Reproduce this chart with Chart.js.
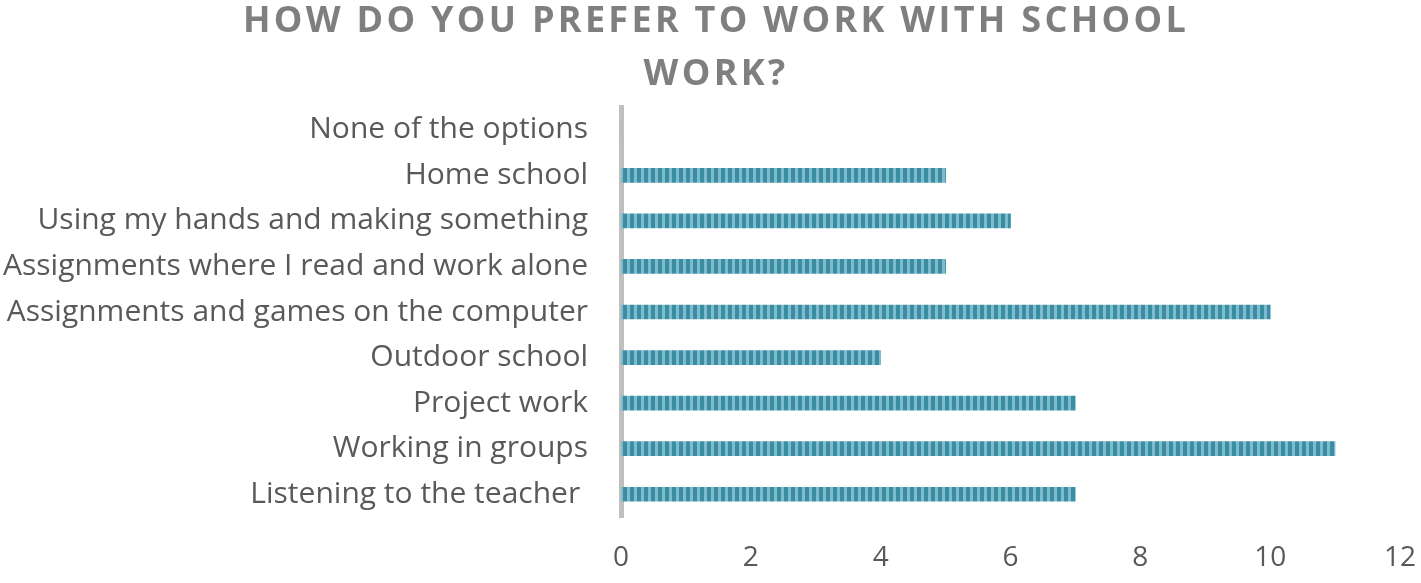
<!DOCTYPE html>
<html>
<head>
<meta charset="utf-8">
<script src="https://cdn.jsdelivr.net/npm/chart.js@4"></script>
<style>
  html, body { margin: 0; padding: 0; background: #fff; }
  #wrap { width: 1421px; height: 583px; }
</style>
</head>
<body>
<div id="wrap"><canvas id="chart" width="1421" height="583"></canvas></div>
<script>
const titleLines = ['HOW DO YOU PREFER TO WORK WITH SCHOOL', 'WORK?'];
const categories = [
  'None of the options',
  'Home school',
  'Using my hands and making something',
  'Assignments where I read and work alone',
  'Assignments and games on the computer',
  'Outdoor school',
  'Project work',
  'Working in groups',
  'Listening to the teacher '
];
const responses = [0, 5, 6, 5, 10, 4, 7, 11, 7];
const xTicks = [0, 2, 4, 6, 8, 10, 12];

// striped fill like the original bars
function stripePattern(ctx) {
  const c = document.createElement('canvas');
  c.width = 7;
  c.height = 20;
  const p = c.getContext('2d');
  p.fillStyle = '#80bbcb';
  p.fillRect(0, 0, 7, 20);
  p.fillStyle = '#3a8ea3';
  p.fillRect(0, 0, 4, 20);
  return ctx.createPattern(c, 'repeat');
}

const spacedTitle = {
  id: 'spacedTitle',
  afterDraw(chart) {
    const ctx = chart.ctx;
    ctx.save();
    ctx.font = 'bold 36px "Open Sans"';
    ctx.fillStyle = '#7f7f7f';
    ctx.textAlign = 'center';
    ctx.textBaseline = 'middle';
    ctx.letterSpacing = '3.3px';
    titleLines.forEach((line, i) => {
      ctx.fillText(line, 716, 22 + i * 53);
    });
    ctx.restore();
  }
};

const ctx = document.getElementById('chart').getContext('2d');
new Chart(ctx, {
  type: 'bar',
  data: {
    labels: categories,
    datasets: [{
      data: responses,
      backgroundColor: stripePattern(ctx),
      borderWidth: 0,
      barThickness: 14
    }]
  },
  options: {
    indexAxis: 'y',
    responsive: false,
    animation: false,
    layout: { padding: { top: 107, right: 21, left: 0, bottom: 0 } },
    plugins: {
      legend: { display: false },
      tooltip: { enabled: false }
    },
    scales: {
      x: {
        min: 0,
        max: 12,
        afterBuildTicks: (axis) => { axis.ticks = xTicks.map(v => ({ value: v })); },
        afterFit: (axis) => {
          axis.height = 66;
          axis.paddingLeft = 0;
          axis.paddingRight = 0;
        },
        grid: { display: false, drawTicks: false },
        border: { display: false },
        ticks: {
          padding: 24,
          color: '#595959',
          font: { family: 'Open Sans', size: 28 }
        }
      },
      y: {
        afterFit: (axis) => {
          axis.width = 621;
          axis.paddingTop = 0;
          axis.paddingBottom = 0;
        },
        grid: { display: false, drawTicks: false },
        border: { display: true, color: '#bfbfbf', width: 5 },
        ticks: {
          padding: 33,
          color: '#595959',
          font: { family: 'Open Sans', size: 30 }
        }
      }
    }
  },
  plugins: [spacedTitle]
});
</script>
</body>
</html>
